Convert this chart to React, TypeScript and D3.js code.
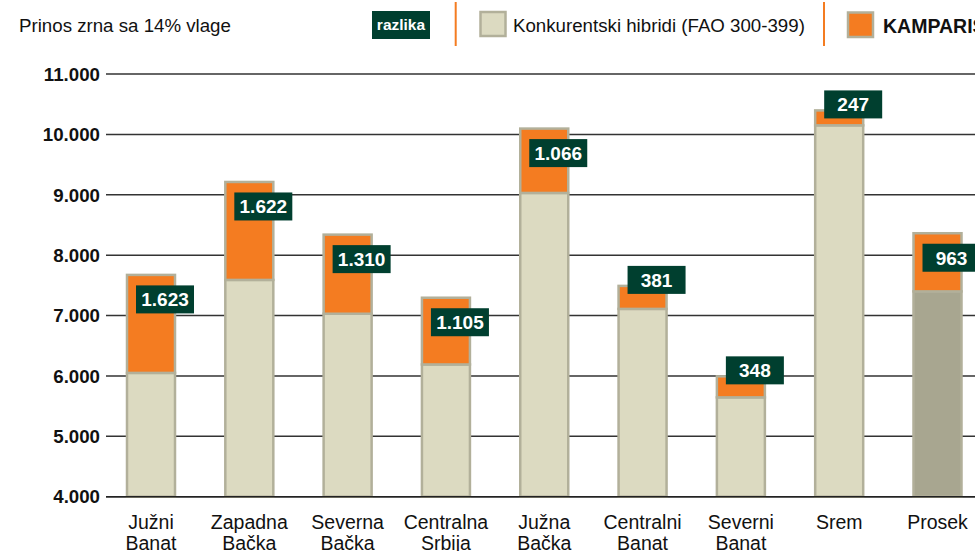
import React from "react";
import * as d3 from "d3";

const categories = [
  "Južni\nBanat",
  "Zapadna\nBačka",
  "Severna\nBačka",
  "Centralna\nSrbija",
  "Južna\nBačka",
  "Centralni\nBanat",
  "Severni\nBanat",
  "Srem",
  "Prosek",
];
const competitorValues = [6050, 7590, 7030, 6190, 9030, 7110, 5645, 10150, 7400];
const differenceValues = [1623, 1622, 1310, 1105, 1066, 381, 348, 247, 963];
const yTicks = [4000, 5000, 6000, 7000, 8000, 9000, 10000, 11000];
const legendTitle = "Prinos zrna sa 14% vlage";
const legendDiff = "razlika";
const legendCompetitor = "Konkurentski hibridi (FAO 300-399)";
const legendKws = "KAMPARIS";

const W = 975;
const H = 551;
const FONT = "'Liberation Sans', Arial, Helvetica, sans-serif";
const BEIGE = "#dcdac1";
const BEIGE_DARK = "#a8a690";
const STROKE = "#b2b09a";
const ORANGE = "#f47c21";
const GREEN = "#003f2f";

const locale = d3.formatLocale({ decimal: ",", thousands: ".", grouping: [3], currency: ["", ""] });
const fmt = locale.format(",d");

export default function App() {
  const y = d3.scaleLinear().domain([4000, 11000]).range([496.7, 74]);
  const x = d3.scalePoint<string>().domain(categories).range([151, 937.5]);
  const barW = 48;
  const boxW = 58;
  const boxH = 28;

  return (
    <svg width={W} height={H} style={{ position: "absolute", left: 0, top: 0, background: "#fff" }} fontFamily={FONT}>
      {/* Legend */}
      <text x={19} y={31.5} fontSize={18.7} fill="#111">{legendTitle}</text>
      <rect x={372} y={11} width={58} height={28} fill={GREEN} />
      <text x={401} y={30} fontSize={15.5} fontWeight="bold" fill="#fff" textAnchor="middle">{legendDiff}</text>
      <line x1={455.7} x2={455.7} y1={2} y2={46} stroke={ORANGE} strokeWidth={2} />
      <rect x={480.5} y={12} width={25} height={24} fill={BEIGE} stroke={STROKE} strokeWidth={2.5} />
      <text x={513} y={31.5} fontSize={18.7} fill="#111">{legendCompetitor}</text>
      <line x1={824} x2={824} y1={2} y2={46} stroke={ORANGE} strokeWidth={2} />
      <rect x={848} y={12.5} width={25} height={24.5} fill={ORANGE} stroke={STROKE} strokeWidth={2.5} />
      <text x={883} y={33} fontSize={19.5} fontWeight="bold" fill="#111">{legendKws}</text>

      {/* Grid + y ticks */}
      {yTicks.map((t) => (
        <g key={t}>
          <line x1={106} x2={W} y1={y(t)} y2={y(t)} stroke="#333" strokeWidth={1.5} />
          <text x={100} y={y(t)} dy="0.36em" textAnchor="end" fontSize={18.7} fontWeight="bold" fill="#111">
            {fmt(t)}
          </text>
        </g>
      ))}

      {/* Bars */}
      {categories.map((c, i) => {
        const cx = x(c) as number;
        const comp = competitorValues[i];
        const total = comp + differenceValues[i];
        const isAvg = i === categories.length - 1;
        const yTop = y(total);
        const ySplit = y(comp);
        const yBase = y(4000);
        const segH = ySplit - yTop;
        const boxTop = segH < 40 ? yTop - 20 : yTop + 10.5;
        return (
          <g key={c}>
            <rect x={cx - barW / 2} y={ySplit} width={barW} height={yBase - ySplit}
              fill={isAvg ? BEIGE_DARK : BEIGE} stroke={STROKE} strokeWidth={2.5} />
            <rect x={cx - barW / 2} y={yTop} width={barW} height={segH}
              fill={ORANGE} stroke={STROKE} strokeWidth={2.5} />
            <rect x={cx - 15} y={boxTop} width={boxW} height={boxH} fill={GREEN} />
            <text x={cx - 15 + boxW / 2} y={boxTop + boxH / 2} dy="0.36em" textAnchor="middle"
              fontSize={19} fontWeight="bold" fill="#fff">
              {fmt(differenceValues[i])}
            </text>
          </g>
        );
      })}
      <line x1={106} x2={W} y1={y(4000)} y2={y(4000)} stroke="#222" strokeWidth={1.6} />

      {/* X labels */}
      {categories.map((c) => {
        const cx = x(c) as number;
        return (
          <text key={"l" + c} x={cx} textAnchor="middle" fontSize={19.5} fill="#111">
            {c.split("\n").map((line, k) => (
              <tspan key={k} x={cx} y={528.5 + k * 21.7}>{line}</tspan>
            ))}
          </text>
        );
      })}
    </svg>
  );
}
